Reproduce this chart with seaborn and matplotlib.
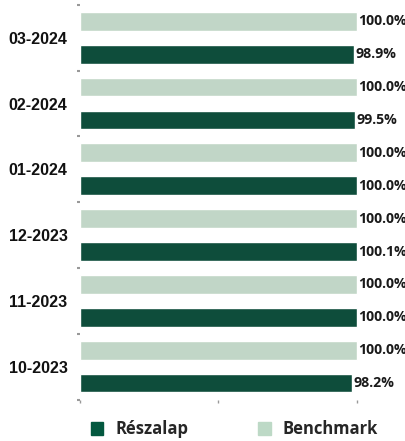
import matplotlib

matplotlib.use("Agg")
import matplotlib.pyplot as plt
import numpy as np
import pandas as pd
import seaborn as sns
from matplotlib.patches import Patch
from matplotlib.ticker import FixedLocator

months = ["03-2024", "02-2024", "01-2024", "12-2023", "11-2023", "10-2023"]
reszalap = [98.9, 99.5, 100.0, 100.1, 100.0, 98.2]
benchmark = [100.0, 100.0, 100.0, 100.0, 100.0, 100.0]
series = ["Benchmark", "Részalap"]

DARK = "#03583f"
LIGHT = "#bdd9c6"

sns.set_theme(style="white")
plt.rcParams["font.family"] = ["Open Sans", "DejaVu Sans"]

df = pd.DataFrame({
    "month": months * 2,
    "series": ["Benchmark"] * len(months) + ["Részalap"] * len(months),
    "value": benchmark + reszalap,
})

fig = plt.figure(figsize=(4.06, 4.41), dpi=100)
ax = fig.add_axes([0.197, 0.094, 0.685, 0.895])
sns.barplot(data=df, y="month", x="value", hue="series", hue_order=series,
            order=months, palette={"Benchmark": LIGHT, "Részalap": DARK},
            orient="h", width=1.0, gap=0.43, legend=False, ax=ax)

for cont in ax.containers:
    ax.bar_label(cont, labels=[f"{v:.1f}%" for v in cont.datavalues], padding=1,
                 fontsize=10.2, fontweight="bold", color="#1a1a1a", clip_on=False)

ax.set_xlim(0, 100.5)
ax.set_ylim(len(months) - 0.5, -0.5)
ax.set_xlabel("")
ax.set_ylabel("")
for s in ax.spines.values():
    s.set_visible(False)

ax.set_xticks([0, 50, 100])
ax.set_xticklabels([])
ax.tick_params(axis="x", which="major", bottom=True, length=2.5, width=1, color="#999999")
ax.yaxis.set_minor_locator(FixedLocator(np.arange(-0.5, len(months), 1.0)))
ax.tick_params(axis="y", which="minor", left=True, length=2.5, width=1.5, color="#999999", pad=0)
ax.tick_params(axis="y", which="major", left=False, length=0, pad=9)
for lab in ax.get_yticklabels():
    lab.set_family(["Liberation Sans", "DejaVu Sans"])
    lab.set_fontweight("bold")
    lab.set_fontsize(11.5)
    lab.set_color("#111111")

handles = [Patch(color=DARK, label="Részalap"), Patch(color=LIGHT, label="Benchmark")]
fig.legend(handles=handles, loc="lower center", bbox_to_anchor=(0.577, -0.028), ncol=2,
           frameon=False, handlelength=0.75, handleheight=0.75, handletextpad=0.7,
           columnspacing=4.2, prop={"family": ["Open Sans", "DejaVu Sans"], "weight": "bold", "size": 12})

fig.savefig("out.png", dpi=100)
